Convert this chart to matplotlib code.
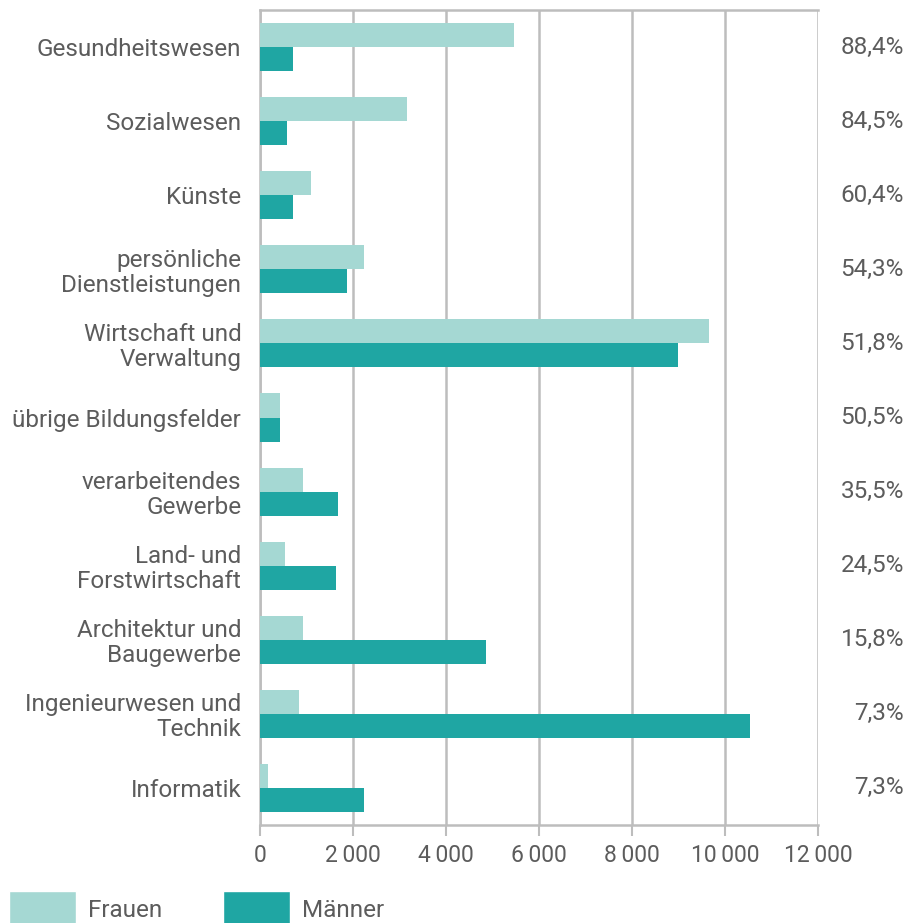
import matplotlib.pyplot as plt
import numpy as np
from matplotlib.patches import Patch

categories = ["Gesundheitswesen", "Sozialwesen", "Künste", "persönliche\nDienstleistungen",
              "Wirtschaft und\nVerwaltung", "übrige Bildungsfelder", "verarbeitendes\nGewerbe",
              "Land- und\nForstwirtschaft", "Architektur und\nBaugewerbe",
              "Ingenieurwesen und\nTechnik", "Informatik"]
frauen = [5460, 3160, 1100, 2230, 9650, 430, 925, 530, 925, 830, 175]
maenner = [720, 580, 720, 1880, 8990, 420, 1680, 1630, 4860, 10540, 2230]
anteil = ["88,4%", "84,5%", "60,4%", "54,3%", "51,8%", "50,5%", "35,5%", "24,5%", "15,8%", "7,3%", "7,3%"]
xticks = [0, 2000, 4000, 6000, 8000, 10000, 12000]
xticklabels = ["0", "2\u2009000", "4\u2009000", "6\u2009000", "8\u2009000", "10\u2009000", "12\u2009000"]

c_f = "#a5d8d3"
c_m = "#1fa6a3"
grid_c = "#bdbdbd"
txt_c = "#5c5c5c"
fs = 17.5

plt.rcParams['font.family'] = ['Roboto', 'DejaVu Sans']

fig = plt.figure(figsize=(9.06, 9.23), dpi=100)
ax = fig.add_axes([260/906, 1-825/923, 558/906, 815/923])

y = np.arange(len(categories))
h = 0.325
ax.barh(y - h/2, frauen, height=h, color=c_f, zorder=3)
ax.barh(y + h/2, maenner, height=h, color=c_m, zorder=3)

ax.set_xlim(0, 12000)
ax.set_ylim(len(categories) - 0.5, -0.5)
ax.set_xticks(xticks)
ax.set_xticklabels(xticklabels, fontsize=16.5, color=txt_c)
ax.set_yticks(y)
ax.set_yticklabels(categories, fontsize=fs, color=txt_c, linespacing=1.1)
ax.tick_params(axis='y', length=0, pad=13.5)
ax.tick_params(axis='x', length=8, width=1.5, color=grid_c, pad=6)

ax.grid(axis='x', color=grid_c, linewidth=1.8, zorder=0)
ax.set_axisbelow(True)
for s in ['left', 'bottom', 'top']:
    ax.spines[s].set_color(grid_c)
    ax.spines[s].set_linewidth(1.8)
ax.spines['right'].set_visible(False)

for yi, a in zip(y, anteil):
    ax.annotate(a, xy=(1, yi), xycoords=('axes fraction', 'data'),
                xytext=(86, 0), textcoords='offset pixels',
                ha='right', va='center', fontsize=fs, color=txt_c)

handles = [Patch(facecolor=c_f, edgecolor='white', label='Frauen'),
           Patch(facecolor=c_m, edgecolor='white', label='Männer')]
leg = fig.legend(handles=handles, loc='lower left', bbox_to_anchor=(-0.001, -0.015),
                 ncol=2, frameon=False, fontsize=fs, handlelength=2.75, handleheight=1.9,
                 columnspacing=2.5, handletextpad=0.5, borderaxespad=0)
for t in leg.get_texts():
    t.set_color(txt_c)

fig.savefig('out.png', dpi=100)
